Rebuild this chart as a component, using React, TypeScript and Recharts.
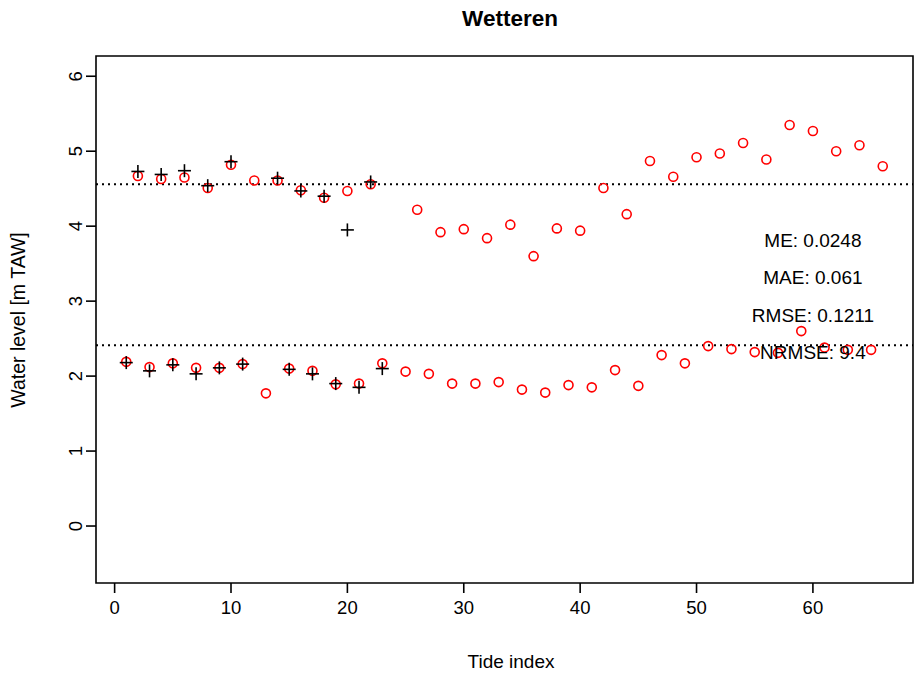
import React from 'react'
import {
  ScatterChart, Scatter, XAxis, YAxis, ReferenceLine, ReferenceArea, ReferenceDot,
} from 'recharts'

// ─── Data ────────────────────────────────────────────────────────────────────

// modelled water levels (red circles); tide 24 has no value
const SIM_INDEX = [
  1, 2, 3, 4, 5, 6, 7, 8, 9, 10, 11, 12, 13, 14, 15, 16, 17, 18, 19, 20, 21, 22, 23,
  25, 26, 27, 28, 29, 30, 31, 32, 33, 34, 35, 36, 37, 38, 39, 40, 41, 42, 43, 44, 45,
  46, 47, 48, 49, 50, 51, 52, 53, 54, 55, 56, 57, 58, 59, 60, 61, 62, 63, 64, 65, 66,
]
const SIM_LEVEL = [
  2.19, 4.67, 2.12, 4.63, 2.17, 4.65, 2.11, 4.51, 2.11, 4.82, 2.16, 4.61, 1.77, 4.61, 2.10, 4.48,
  2.07, 4.38, 1.89, 4.47, 1.90, 4.56, 2.17,
  2.06, 4.22, 2.03, 3.92, 1.90, 3.96, 1.90, 3.84, 1.92, 4.02, 1.82, 3.60, 1.78, 3.97, 1.88, 3.94,
  1.85, 4.51, 2.08, 4.16, 1.87,
  4.87, 2.28, 4.66, 2.17, 4.92, 2.40, 4.97, 2.36, 5.11, 2.32, 4.89, 2.31, 5.35, 2.60, 5.27, 2.38,
  5.00, 2.35, 5.08, 2.35, 4.80,
]

// observed water levels (black crosses)
const OBS_INDEX = [1, 2, 3, 4, 5, 6, 7, 8, 9, 10, 11, 14, 15, 16, 17, 18, 19, 20, 21, 22, 23]
const OBS_LEVEL = [
  2.18, 4.73, 2.07, 4.69, 2.15, 4.74, 2.03, 4.54, 2.11, 4.86, 2.16,
  4.64, 2.09, 4.47, 2.03, 4.40, 1.90, 3.95, 1.85, 4.59, 2.10,
]

const MEAN_HIGH = 4.56
const MEAN_LOW = 2.413

const X_TICKS = [0, 10, 20, 30, 40, 50, 60]
const Y_TICKS = [0, 1, 2, 3, 4, 5, 6]
const X_DOMAIN: [number, number] = [-1.6, 68.6]
const Y_DOMAIN: [number, number] = [-0.76, 6.27]

const STATS = [
  { label: 'ME: 0.0248', y: 3.81 },
  { label: 'MAE: 0.061', y: 3.32 },
  { label: 'RMSE: 0.1211', y: 2.81 },
  { label: 'NRMSE: 9.4', y: 2.32 },
]
const STATS_X = 60

const FONT = '"Liberation Sans", Arial, sans-serif'

// ─── Shapes ──────────────────────────────────────────────────────────────────

function OpenCircle(props: { cx?: number; cy?: number }) {
  const { cx = 0, cy = 0 } = props
  return <circle cx={cx} cy={cy} r={4.5} fill="none" stroke="#ff0000" strokeWidth={1.6} />
}

function Plus(props: { cx?: number; cy?: number }) {
  const { cx = 0, cy = 0 } = props
  const h = 6.5
  return (
    <g stroke="#000" strokeWidth={1.6}>
      <line x1={cx - h} y1={cy} x2={cx + h} y2={cy} />
      <line x1={cx} y1={cy - h} x2={cx} y2={cy + h} />
    </g>
  )
}

function YTick(props: { x?: number; y?: number; payload?: { value: number } }) {
  const { x = 0, y = 0, payload } = props
  return (
    <g transform={`translate(${x},${y}) rotate(-90)`}>
      <text textAnchor="middle" dy="0.36em" fontSize={18.5} fill="#000" fontFamily={FONT}>
        {payload?.value}
      </text>
    </g>
  )
}

// ═════════════════════════════════════════════════════════════════════════════

export default function App() {
  const simData = SIM_INDEX.map((x, i) => ({ x, y: SIM_LEVEL[i] }))
  const obsData = OBS_INDEX.map((x, i) => ({ x, y: OBS_LEVEL[i] }))

  return (
    <div style={{ position: 'absolute', left: 0, top: 0, width: 915, height: 673, background: '#fff', fontFamily: FONT }}>
      <ScatterChart width={915} height={673} margin={{ top: 56, right: 2, left: 36, bottom: 0 }}>
        <XAxis
          type="number"
          dataKey="x"
          domain={X_DOMAIN}
          ticks={X_TICKS}
          allowDataOverflow
          height={90}
          axisLine={false}
          tickLine={{ stroke: '#000', strokeWidth: 1.6 }}
          tickSize={10}
          tickMargin={8}
          tick={{ fontSize: 18.5, fill: '#000', fontFamily: FONT }}
        />
        <YAxis
          type="number"
          dataKey="y"
          domain={Y_DOMAIN}
          ticks={Y_TICKS}
          allowDataOverflow
          width={60}
          axisLine={false}
          tickLine={{ stroke: '#000', strokeWidth: 1.6 }}
          tickSize={10}
          tickMargin={11}
          tick={<YTick />}
        />
        <ReferenceArea
          x1={X_DOMAIN[0]} x2={X_DOMAIN[1]} y1={Y_DOMAIN[0]} y2={Y_DOMAIN[1]}
          fill="none" stroke="#000" strokeWidth={1.6} fillOpacity={0}
        />
        <ReferenceLine y={MEAN_HIGH} stroke="#000" strokeWidth={2} strokeDasharray="2 4" />
        <ReferenceLine y={MEAN_LOW} stroke="#000" strokeWidth={2} strokeDasharray="2 4" />
        <Scatter data={simData} shape={<OpenCircle />} isAnimationActive={false} />
        <Scatter data={obsData} shape={<Plus />} isAnimationActive={false} />
        {STATS.map((s) => (
          <ReferenceDot
            key={s.label}
            x={STATS_X}
            y={s.y}
            r={0}
            fill="none"
            stroke="none"
            label={{ value: s.label, position: 'center', fontSize: 19, fill: '#000', fontFamily: FONT }}
          />
        ))}
      </ScatterChart>
      <svg width={915} height={673} style={{ position: 'absolute', left: 0, top: 0, pointerEvents: 'none' }}>
        <text x={510} y={26} textAnchor="middle" fontSize={22.5} fontWeight="bold" fill="#000" fontFamily={FONT}>
          Wetteren
        </text>
        <text x={511} y={668} textAnchor="middle" fontSize={19} fill="#000" fontFamily={FONT}>
          Tide index
        </text>
        <text
          x={25}
          y={320}
          transform="rotate(-90, 25, 320)"
          textAnchor="middle"
          fontSize={19.5}
          fill="#000"
          fontFamily={FONT}
        >
          Water level [m TAW]
        </text>
      </svg>
    </div>
  )
}
